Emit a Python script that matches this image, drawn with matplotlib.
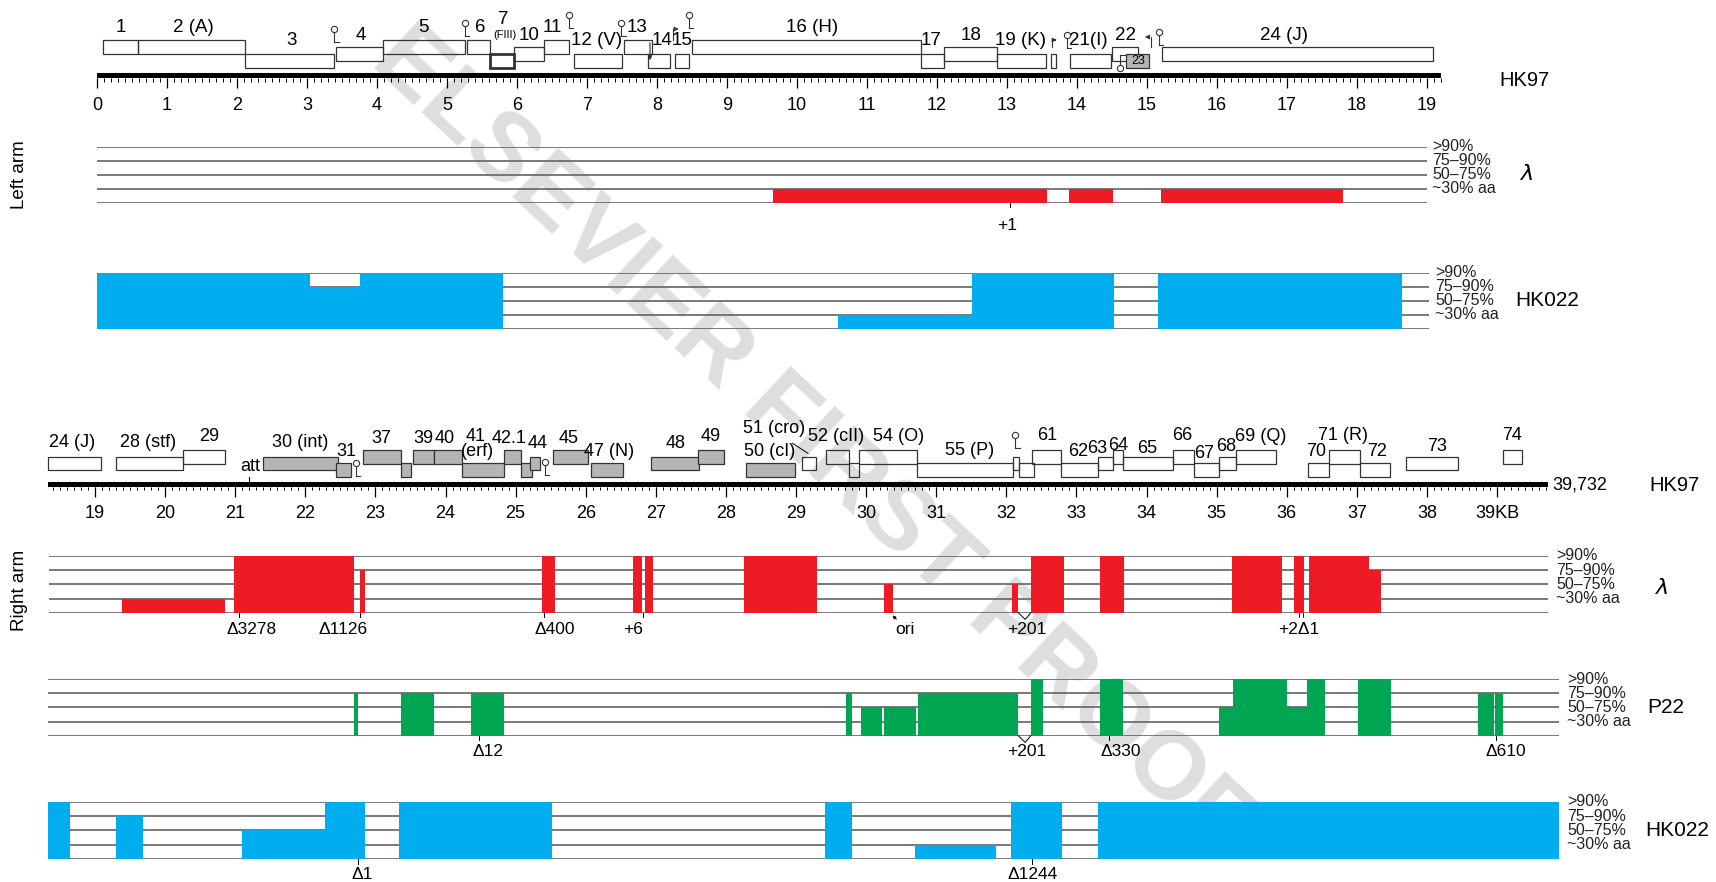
import numpy as np
import matplotlib
matplotlib.use('Agg')
import matplotlib.pyplot as plt
from matplotlib.patches import Rectangle

plt.rcParams['font.family'] = ['Liberation Sans', 'DejaVu Sans']
NARROW = ['Liberation Sans Narrow', 'Liberation Sans', 'DejaVu Sans']

W, H = 1716, 882
RED, BLUE, GREEN = '#ed1c24', '#00aeef', '#00a651'
LINE, GRAY, EDGE = '#6d6e71', '#b5b5b8', '#333333'
PCT = ['>90%', '75\u201390%', '50\u201375%', '~30% aa']

# ---------------- left arm (kb) ----------------
left_gene_start = [0.09, 0.58, 2.11, 3.41, 4.09, 5.29, 5.62, 5.95, 6.39, 6.81, 7.53,
                   7.87, 8.26, 8.50, 11.77, 12.10, 12.85, 13.63, 13.90, 14.50, 14.70, 15.21]
left_gene_end = [0.58, 2.11, 3.39, 4.09, 5.25, 5.62, 5.95, 6.39, 6.74, 7.50, 7.93,
                 8.19, 8.46, 11.77, 12.10, 12.85, 13.55, 13.70, 14.48, 14.87, 15.03, 19.08]
left_gene_row = [0, 0, 2, 1, 0, 0, 2, 1, 0, 2, 0, 2, 2, 0, 2, 1, 2, 2, 2, 1, 2, 1]
left_gene_gray = [20]
left_gene_bold = [6]

left_label_text = ['1', '2 (A)', '3', '4', '5', '6', '7', '10', '11', '12 (V)', '13', '14',
                   '15', '16 (H)', '17', '18', '19 (K)', '21(I)', '22', '24 (J)']
left_label_x = [0.34, 1.37, 2.78, 3.77, 4.67, 5.48, 5.81, 6.17, 6.50, 7.13, 7.72, 8.07,
                8.36, 10.21, 11.92, 12.48, 13.19, 14.16, 14.70, 16.96]
left_label_row = [0, 0, 2, 1, 0, 0, 0, 1, 0, 2, 0, 2, 2, 0, 2, 1, 2, 2, 1, 1]

left_term_kb = [3.39, 5.25, 6.74, 7.49, 8.46, 13.86, 15.17]
left_term_up = [29, 23, 15, 23, 15, 35, 32]

lambda_left_start = [9.65, 13.89, 15.20]
lambda_left_end = [13.57, 14.51, 17.80]
lambda_left_level = [1, 1, 1]

hk022_left_start = [0.0, 3.04, 3.75, 10.59, 12.50, 15.16]
hk022_left_end = [3.04, 3.75, 5.80, 12.50, 14.53, 18.64]
hk022_left_level = [4, 3, 4, 1, 4, 4]

# ---------------- right arm (kb) ----------------
right_gene_start = [18.33, 19.30, 20.26, 21.39, 22.44, 22.83, 23.37, 23.54, 23.84, 24.24,
                    24.84, 25.07, 25.21, 25.54, 26.07, 26.93, 27.60, 28.29, 29.09, 29.43,
                    29.75, 29.90, 30.72, 32.09, 32.18, 32.37, 32.78, 33.31, 33.52, 33.67,
                    34.38, 34.68, 35.04, 35.28, 36.30, 36.61, 37.05, 37.70, 39.08]
right_gene_end = [19.08, 20.26, 20.86, 22.46, 22.65, 23.37, 23.51, 23.84, 24.24, 24.83,
                  25.07, 25.23, 25.35, 26.03, 26.53, 27.62, 27.98, 28.99, 29.29, 29.75,
                  29.90, 30.72, 32.09, 32.18, 32.39, 32.78, 33.31, 33.52, 33.67, 34.38,
                  34.68, 35.04, 35.28, 35.85, 36.61, 37.05, 37.48, 38.45, 39.35]
right_gene_row = [1, 1, 0, 1, 2, 0, 2, 0, 0, 2, 0, 2, 1, 0, 2, 1, 0, 2, 1, 0,
                  2, 0, 2, 1, 2, 0, 2, 1, 0, 1, 0, 2, 1, 0, 2, 0, 2, 1, 0]
right_gene_gray = list(range(3, 18))

right_label_text = ['24 (J)', '28 (stf)', '29', '30 (int)', '31', '37', '39', '40', '41',
                    '(erf)', '42.1', '44', '45', '47 (N)', '48', '49', '51 (cro)', '50 (cI)',
                    '52 (cII)', '54 (O)', '55 (P)', '61', '62', '63', '64', '65', '66', '67',
                    '68', '69 (Q)', '70', '71 (R)', '72', '73', '74']
right_label_x = [18.67, 19.76, 20.63, 21.92, 22.58, 23.09, 23.69, 23.99, 24.43,
                 24.46, 24.90, 25.31, 25.75, 26.33, 27.28, 27.79, 28.68, 28.62,
                 29.57, 30.46, 31.48, 32.58, 33.03, 33.30, 33.60, 34.01, 34.51, 34.82,
                 35.14, 35.63, 36.42, 36.80, 37.29, 38.14, 39.22]
right_label_y = [442.7, 442.7, 436, 442.7, 451.7, 438, 438, 438, 436.7,
                 451.7, 438, 443.3, 438, 451.7, 443.3, 436, 428.3, 451.7,
                 436.7, 436.7, 450, 435, 451.7, 448, 445, 448, 435, 453,
                 446.7, 436, 451.7, 435, 451.7, 446.7, 435]

right_term_kb = [22.72, 25.42, 32.13]
right_term_up = [462.7, 461.7, 435]

lambda_right_start = [19.38, 20.99, 22.78, 25.38, 26.68, 26.84, 28.26, 30.26, 32.08,
                      32.35, 33.33, 35.22, 36.11, 36.32, 37.17]
lambda_right_end = [20.85, 22.69, 22.85, 25.56, 26.80, 26.96, 29.30, 30.38, 32.17,
                    32.82, 33.68, 35.93, 36.25, 37.17, 37.34]
lambda_right_level = [1, 4, 3, 4, 4, 4, 4, 2, 2, 4, 4, 4, 4, 4, 3]

p22_start = [22.69, 23.36, 24.37, 29.72, 29.93, 30.26, 30.74, 32.35, 33.33, 35.04,
             35.23, 36.00, 36.29, 37.02, 38.73, 38.97]
p22_end = [22.75, 23.83, 24.83, 29.80, 30.23, 30.71, 32.16, 32.53, 33.67, 35.23,
           36.00, 36.29, 36.55, 37.49, 38.96, 39.09]
p22_level = [3, 3, 3, 3, 2, 2, 3, 4, 4, 2, 4, 2, 4, 4, 3, 3]

hk022_right_start = [18.33, 19.30, 21.10, 22.28, 23.33, 29.41, 30.70, 32.07, 33.31]
hk022_right_end = [18.65, 19.68, 22.28, 22.85, 25.52, 29.80, 31.86, 32.80, 39.89]
hk022_right_level = [4, 3, 2, 4, 4, 4, 1, 4, 4]

# annotations under tracks: (tick position, kind, text position, text)
lambda_left_marks = [(13.04, 'tick', 13.00, '+1')]
lambda_right_marks = [(21.05, 'tick', 21.24, '\u03943278'), (22.78, 'tick', 22.54, '\u03941126'),
                      (25.41, 'tick', 25.56, '\u0394400'), (26.82, 'tick', 26.68, '+6'),
                      (32.27, 'v', 32.29, '+201'), (36.20, 'double', 36.17, '+2\u03941')]
p22_marks = [(24.48, 'tick', 24.61, '\u039412'), (32.27, 'v', 32.29, '+201'),
             (33.46, 'tick', 33.63, '\u0394330'), (38.98, 'tick', 39.13, '\u0394610')]
hk022_right_marks = [(22.75, 'tick', 22.81, '\u03941'), (32.37, 'tick', 32.37, '\u03941244')]


fig = plt.figure(figsize=(W / 100, H / 100), dpi=100)

# watermark behind everything
bg = fig.add_axes([0, 0, 1, 1])
bg.axis('off')
bg.text(0.472, 0.50, 'ELSEVIER FIRST PROOF', rotation=-43, ha='center', va='center',
        fontsize=70, fontweight='bold', color='#dedee0', transform=bg.transAxes)


def band(top, bottom, kb_ref, px_ref, scale):
    ax = fig.add_axes([0, 1 - bottom / H, 1, (bottom - top) / H])
    ax.set_xlim(kb_ref - px_ref / scale, kb_ref + (W - px_ref) / scale)
    ax.set_facecolor('none')
    ax.axis('off')
    return ax


def genes(ax, starts, ends, rows, gray, bold, top, step, h):
    for i, (s, e, r) in enumerate(zip(starts, ends, rows)):
        g = i in gray
        ax.add_patch(Rectangle((s, top + r * step), e - s, h, fc=GRAY if g else 'none',
                               ec=EDGE, lw=2.0 if i in bold else 0.9, zorder=3 if g else 2))


def ruler(ax, x0, x1, y, ticks, labels, ylab):
    ax.add_patch(Rectangle((x0, y), x1 - x0, 5, fc='black', ec='none'))
    minor = np.arange(np.ceil(x0 * 10) / 10, x1 + 0.001, 0.1)
    ax.vlines(minor, y + 5, y + 8.4, color='k', lw=0.7)
    ax.vlines(ticks, y + 5, y + 15, color='k', lw=0.9)
    for t, lab in zip(ticks, labels):
        ax.text(t, ylab, lab, ha='center', va='center', fontsize=13)


def hairpin(ax, x, ytop, down=False, stem=13):
    ys = [ytop, ytop + stem] if not down else [ytop, ytop - stem]
    ax.plot([x, x], ys, color=EDGE, lw=0.8)
    ax.plot([x, x + 0.06], [ys[1], ys[1]], color=EDGE, lw=0.8)
    ax.plot(x, ytop, 'o', ms=4.5, mfc='white', mec=EDGE, mew=0.8, zorder=4)


def track(top, bottom, kb_ref, px_ref, scale, x0, x1, starts, ends, levels, color,
          xlab, name=None, xname=None):
    ax = band(top, bottom, kb_ref, px_ref, scale)
    ax.set_ylim(0, 4)
    ax.hlines(range(5), x0, x1, color=LINE, lw=1.3, zorder=1)
    ax.bar(starts, levels, width=np.subtract(ends, starts), bottom=0, align='edge',
           color=color, lw=0, zorder=2)
    for lvl, txt in zip([4, 3, 2, 1], PCT):
        ax.text(xlab, lvl, txt, ha='left', va='center', fontsize=11.5, family=NARROW,
                color='#222222')
    if name is not None:
        ax.text(xname, 2.0, name, ha='left', va='center', fontsize=15)
    return ax


def marks(ax, items, ytext):
    for xt, kind, xl, txt in items:
        if kind == 'tick':
            ax.plot([xt, xt], [0, -0.33], color='k', lw=0.7, clip_on=False)
        elif kind == 'v':
            ax.plot([xt - 0.1, xt, xt + 0.08], [0, -0.47, 0], color='k', lw=0.7, clip_on=False)
        else:
            for dx in (-0.03, 0.03):
                ax.plot([xt + dx, xt + dx], [0, -0.33], color='k', lw=0.6, clip_on=False)
        ax.text(xl, ytext, txt, ha='center', va='center', fontsize=12.5, family=NARROW)


# ---------- left arm gene map ----------
top_map = band(0, 135, 0, 97, 70)
top_map.set_ylim(135, 0)
genes(top_map, left_gene_start, left_gene_end, left_gene_row, left_gene_gray,
      left_gene_bold, 40, 7, 14)
label_dy = {0: 28, 1: 35, 2: 40.5}
for t, x, r in zip(left_label_text, left_label_x, left_label_row):
    y = label_dy[r]
    if t == '7':
        y = 20
        top_map.text(5.83, 35, '(FIII)', ha='center', va='center', fontsize=8)
    top_map.text(x, y, t, ha='center', va='center', fontsize=13.5)
top_map.text(14.87, 60.5, '23', ha='center', va='center', fontsize=9, zorder=5)
for x, y in zip(left_term_kb, left_term_up):
    hairpin(top_map, x, y)
hairpin(top_map, 14.62, 68, down=True)
# promoter arrows
top_map.annotate('', xy=(8.35, 29), xytext=(8.23, 29),
                 arrowprops=dict(arrowstyle='-|>', lw=0.8, color=EDGE, mutation_scale=6))
top_map.plot([8.23, 8.23], [29, 40], color=EDGE, lw=0.8)
top_map.annotate('', xy=(13.75, 40), xytext=(13.64, 40),
                 arrowprops=dict(arrowstyle='-|>', lw=0.8, color=EDGE, mutation_scale=6))
top_map.plot([13.64, 13.64], [40, 47], color=EDGE, lw=0.8)
top_map.annotate('', xy=(14.93, 37), xytext=(15.05, 37),
                 arrowprops=dict(arrowstyle='-|>', lw=0.8, color=EDGE, mutation_scale=6))
top_map.plot([15.05, 15.05], [37, 47], color=EDGE, lw=0.8)
top_map.annotate('', xy=(7.90, 63), xytext=(7.90, 40),
                 arrowprops=dict(arrowstyle='-|>', lw=0.8, color=EDGE, mutation_scale=6))
ruler(top_map, 0, 19.2, 73.3, list(range(20)), [str(i) for i in range(20)], 106)
top_map.text(20.03, 80, 'HK97', ha='left', va='center', fontsize=14.5)

# ---------- left arm tracks ----------
lam_l = track(146.7, 202.7, 0, 97, 70, 0.0, 19.0, lambda_left_start, lambda_left_end,
              lambda_left_level, RED, 19.07)
lam_l.text(20.33, 2.0, r'$\lambda$', ha='left', va='center', fontsize=16)
marks(lam_l, lambda_left_marks, -1.6)
track(272.7, 329, 0, 97, 70, 0.0, 19.03, hk022_left_start, hk022_left_end,
      hk022_left_level, BLUE, 19.12, 'HK022', 20.26)

# ---------- right arm gene map ----------
r_map = band(415, 525, 19, 95, 70.1)
r_map.set_ylim(525, 415)
genes(r_map, right_gene_start, right_gene_end, right_gene_row, right_gene_gray, [],
      450, 6.7, 13.5)
for t, x, y in zip(right_label_text, right_label_x, right_label_y):
    r_map.text(x, y, t, ha='center', va='center', fontsize=13)
r_map.text(21.21, 466.7, 'att', ha='center', va='center', fontsize=13)
r_map.plot([21.2, 21.2], [476.5, 481.7], color='k', lw=0.8)
r_map.plot([28.95, 29.17], [443.3, 453.3], color='k', lw=0.7)
for x, y in zip(right_term_kb, right_term_up):
    hairpin(r_map, x, y)
r_ticks = list(range(19, 40))
r_labels = [str(i) for i in range(19, 39)] + ['39KB']
ruler(r_map, 18.33, 39.73, 481.7, r_ticks, r_labels, 513)
r_map.text(39.79, 485, '39,732', ha='left', va='center', fontsize=13)
r_map.text(41.18, 485, 'HK97', ha='left', va='center', fontsize=14.5)

# ---------- right arm tracks ----------
lam_r = track(556, 612.7, 19, 95, 70.1, 18.35, 39.73, lambda_right_start, lambda_right_end,
              lambda_right_level, RED, 39.84)
lam_r.text(41.25, 1.7, r'$\lambda$', ha='left', va='center', fontsize=16)
marks(lam_r, lambda_right_marks, -1.15)
lam_r.annotate('', xy=(30.35, -0.05), xytext=(30.46, -0.62),
               arrowprops=dict(arrowstyle='-|>', lw=0.6, color='k', mutation_scale=5),
               annotation_clip=False)
lam_r.text(30.55, -1.2, 'ori', ha='center', va='center', fontsize=12.5, family=NARROW)

p22 = track(679, 735.7, 19, 95, 70.1, 18.33, 39.89, p22_start, p22_end, p22_level, GREEN,
            40.0, 'P22', 41.15)
marks(p22, p22_marks, -1.08)
hk_r = track(801.7, 859, 19, 95, 70.1, 18.33, 39.89, hk022_right_start, hk022_right_end,
             hk022_right_level, BLUE, 40.0, 'HK022', 41.11)
marks(hk_r, hk022_right_marks, -1.05)

fig.text(19 / W, 1 - 175 / H, 'Left arm', rotation=90, ha='center', va='center', fontsize=13.5)
fig.text(19 / W, 1 - 590 / H, 'Right arm', rotation=90, ha='center', va='center', fontsize=13.5)

fig.savefig('out.png', dpi=100)
